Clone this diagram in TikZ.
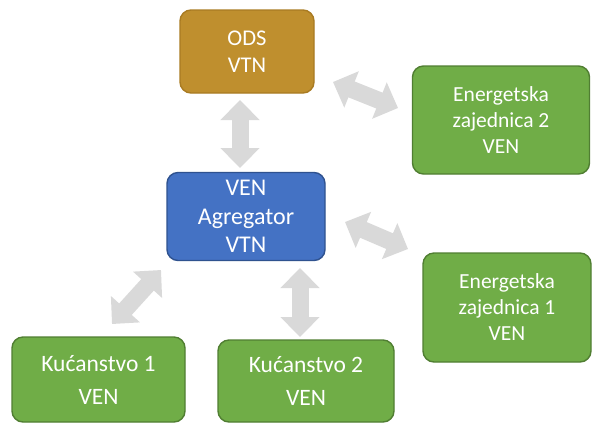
\documentclass[tikz,border=0pt]{standalone}
\usepackage{fontspec}
\setmainfont{Carlito}
\usetikzlibrary{arrows.meta}
\definecolor{gold}{HTML}{BF8F2E}
\definecolor{goldline}{HTML}{A97B22}
\definecolor{vgreen}{HTML}{70AD47}
\definecolor{vgreenline}{HTML}{507E32}
\definecolor{vblue}{HTML}{4472C4}
\definecolor{vblueline}{HTML}{2F528F}
\definecolor{arrowgray}{HTML}{D9D9D9}
\tikzset{
  box/.style={rounded corners=11pt, line width=1.4pt, align=center, text=white,
    font=\fontsize{21.5}{28.5}\selectfont, inner sep=0pt},
  goldbox/.style={box, fill=gold, draw=goldline, font=\fontsize{22.5}{27.5}\selectfont},
  greenbox/.style={box, fill=vgreen, draw=vgreenline},
  ebox/.style={greenbox, font=\fontsize{21.5}{26}\selectfont},
  kbox/.style={greenbox, font=\fontsize{23.5}{33}\selectfont},
  bluebox/.style={box, fill=vblue, draw=vblueline, font=\fontsize{24}{28.5}\selectfont},
  fatarrow/.style={draw=arrowgray, line width=17pt,
    {Triangle[length=20pt,width=38pt]}-{Triangle[length=20pt,width=38pt]}}
}
\begin{document}
\begin{tikzpicture}[x=1pt,y=-1pt]
\useasboundingbox (0,0) rectangle (593,424);
\fill[white] (0,0) rectangle (593,424);

\node[goldbox, minimum width=134pt, minimum height=83pt] (ods) at (247,51.5) {ODS\\VTN};
\node[ebox, minimum width=177pt, minimum height=108pt] (e2) at (501,120) {Energetska\\zajednica 2\\VEN};
\node[bluebox, minimum width=158pt, minimum height=88pt] (agg) at (246,216.5) {VEN\\Agregator\\VTN};
\node[ebox, minimum width=168pt, minimum height=109pt] (e1) at (507,307.5) {Energetska\\zajednica 1\\VEN};
\node[kbox, minimum width=173pt, minimum height=85pt] (k1) at (98.5,379.5) {Kućanstvo 1\\VEN};
\node[kbox, minimum width=176pt, minimum height=82pt] (k2) at (306,381) {Kućanstvo 2\\VEN};

\coordinate (a1s) at (240,100);
\coordinate (a1e) at (240,168);
\coordinate (a2s) at (333,82);
\coordinate (a2e) at (398,108);
\coordinate (a3s) at (345,222);
\coordinate (a3e) at (408,249);
\coordinate (a4s) at (161,270);
\coordinate (a4e) at (112,324);
\coordinate (a5s) at (300,268);
\coordinate (a5e) at (300,337);

\draw[fatarrow] (a1s) -- (a1e);
\draw[fatarrow] (a2s) -- (a2e);
\draw[fatarrow] (a3s) -- (a3e);
\draw[fatarrow] (a4s) -- (a4e);
\draw[fatarrow] (a5s) -- (a5e);
\end{tikzpicture}
\end{document}
